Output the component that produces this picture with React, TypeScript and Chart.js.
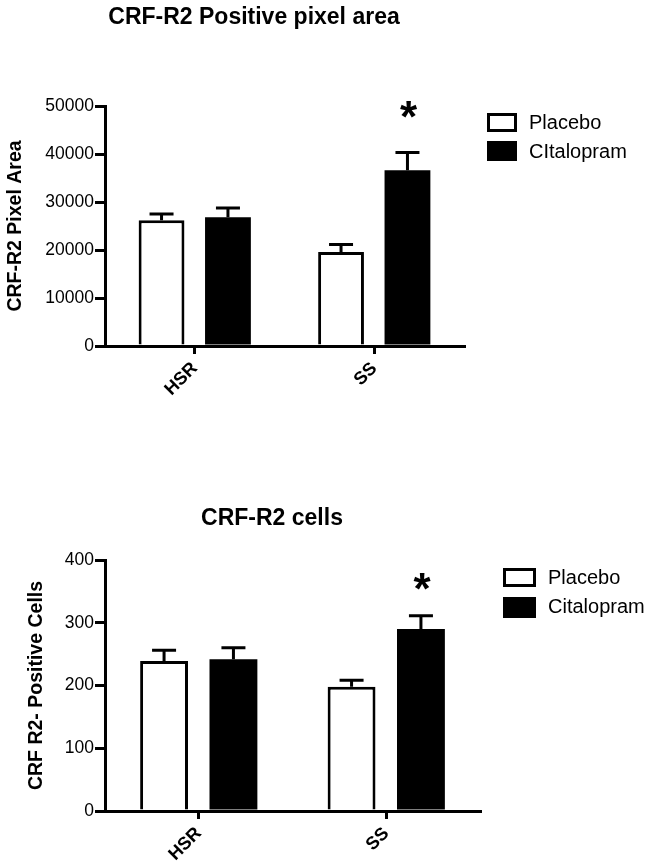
import React, { useEffect, useRef } from 'react';
import { Chart, registerables } from 'chart.js';

Chart.register(...registerables);

const FONT = '"Liberation Sans", Arial, Helvetica, sans-serif';

// ---------- data: top panel (pixel area) ----------
const categories = ['HSR', 'SS'];
const areaSeriesNames = ['Placebo', 'CItalopram'];
const areaPlacebo = [26200, 19600];
const areaPlaceboSem = [1300, 1550];
const areaCitalopram = [26800, 36600];
const areaCitalopramSem = [1950, 3700];
const areaTicks = [0, 10000, 20000, 30000, 40000, 50000];
const areaSignificance = ['', '*'];
const areaStarLevel = 49200;

// ---------- data: bottom panel (cells) ----------
const cellsSeriesNames = ['Placebo', 'Citalopram'];
const cellsPlacebo = [239, 198];
const cellsPlaceboSem = [17, 10.5];
const cellsCitalopram = [242, 290];
const cellsCitalopramSem = [18, 21];
const cellsTicks = [0, 100, 200, 300, 400];
const cellsSignificance = ['', '*'];
const cellsStarLevel = 365;

type Spec = {
  top: number;
  height: number;
  area: { left: number; right: number; top: number; bottom: number };
  title: string;
  titleX: number;
  titleBaseline: number;
  yTitle: string;
  yTitlePad: number;
  names: string[];
  placebo: number[];
  placeboSem: number[];
  citalopram: number[];
  citalopramSem: number[];
  ticks: number[];
  significance: string[];
  starLevel: number;
  legend: { x: number; w: number; boxes: [number, number][]; textX: number; textY: number[] };
};

const decorPlugin = {
  id: 'decor',
  afterDatasetsDraw(chart: any, _args: any, opts: any) {
    const ctx = chart.ctx as CanvasRenderingContext2D;
    const yScale = chart.scales.y;
    ctx.save();
    ctx.strokeStyle = '#000';
    ctx.lineWidth = 3;
    ctx.lineCap = 'butt';
    chart.data.datasets.forEach((ds: any, i: number) => {
      const meta = chart.getDatasetMeta(i);
      const errs: number[] = opts.errors[i];
      meta.data.forEach((el: any, j: number) => {
        const v = ds.data[j];
        const yTop = el.y;
        const yErr = yScale.getPixelForValue(v + errs[j]);
        ctx.beginPath();
        ctx.moveTo(el.x, yTop);
        ctx.lineTo(el.x, yErr);
        ctx.moveTo(el.x - 12, yErr);
        ctx.lineTo(el.x + 12, yErr);
        ctx.stroke();
      });
    });
    ctx.restore();
  },
  afterDraw(chart: any, _args: any, opts: any) {
    const ctx = chart.ctx as CanvasRenderingContext2D;
    const yScale = chart.scales.y;
    ctx.save();
    // title
    ctx.fillStyle = '#000';
    ctx.font = `bold 23px ${FONT}`;
    ctx.textAlign = 'center';
    ctx.textBaseline = 'alphabetic';
    ctx.fillText(opts.title, opts.titleX, opts.titleBaseline);

    // significance stars (on Citalopram bars)
    const meta = chart.getDatasetMeta(1);
    ctx.font = `bold 44px ${FONT}`;
    opts.significance.forEach((s: string, j: number) => {
      if (!s) return;
      const el = meta.data[j];
      const m = ctx.measureText(s);
      const cy = yScale.getPixelForValue(opts.starLevel);
      const baseline = cy + (m.actualBoundingBoxAscent - m.actualBoundingBoxDescent) / 2;
      ctx.fillText(s, el.x + 1, baseline);
    });

    // legend
    const lg = opts.legend;
    ctx.font = `20px ${FONT}`;
    ctx.textAlign = 'left';
    ctx.textBaseline = 'middle';
    opts.names.forEach((name: string, i: number) => {
      const [by, bh] = lg.boxes[i];
      if (i === 0) {
        ctx.fillStyle = '#fff';
        ctx.fillRect(lg.x, by, lg.w, bh);
        ctx.strokeStyle = '#000';
        ctx.lineWidth = 3;
        ctx.strokeRect(lg.x + 1.5, by + 1.5, lg.w - 3, bh - 3);
      } else {
        ctx.fillStyle = '#000';
        ctx.fillRect(lg.x, by, lg.w, bh);
      }
      ctx.fillStyle = '#000';
      ctx.fillText(name, lg.textX, lg.textY[i]);
    });
    ctx.restore();
  },
};

function buildConfig(spec: Spec): any {
  const a = spec.area;
  return {
    type: 'bar',
    data: {
      labels: categories,
      datasets: [
        {
          label: spec.names[0],
          data: spec.placebo,
          backgroundColor: '#ffffff',
          borderColor: '#000000',
          borderWidth: 3,
          categoryPercentage: 0.74,
          barPercentage: 0.69,
        },
        {
          label: spec.names[1],
          data: spec.citalopram,
          backgroundColor: '#000000',
          borderColor: '#000000',
          borderWidth: 0,
          categoryPercentage: 0.74,
          barPercentage: 0.69,
        },
      ],
    },
    options: {
      animation: false,
      responsive: false,
      devicePixelRatio: 1,
      layout: { padding: { left: 0, top: a.top, right: 654 - a.right, bottom: 0 } },
      plugins: {
        legend: { display: false },
        title: { display: false },
        tooltip: { enabled: false },
        decor: {
          errors: [spec.placeboSem, spec.citalopramSem],
          title: spec.title,
          titleX: spec.titleX,
          titleBaseline: spec.titleBaseline,
          significance: spec.significance,
          starLevel: spec.starLevel,
          names: spec.names,
          legend: spec.legend,
        },
      },
      scales: {
        x: {
          type: 'category',
          offset: true,
          grid: {
            display: true,
            drawOnChartArea: false,
            drawTicks: true,
            offset: false,
            tickLength: 8,
            tickWidth: 3,
            tickColor: '#000',
            lineWidth: 3,
            color: '#000',
          },
          border: { display: true, color: '#000', width: 3 },
          ticks: {
            color: '#000',
            font: { family: FONT, size: 18, weight: 'bold' },
            minRotation: 45,
            maxRotation: 45,
            padding: 4,
            labelOffset: 0,
            autoSkip: false,
          },
          afterFit: (s: any) => {
            s.height = spec.height - a.bottom;
          },
        },
        y: {
          min: spec.ticks[0],
          max: spec.ticks[spec.ticks.length - 1],
          afterBuildTicks: (s: any) => {
            s.ticks = spec.ticks.map((v) => ({ value: v }));
          },
          grid: {
            display: true,
            drawOnChartArea: false,
            drawTicks: true,
            tickLength: 10,
            tickWidth: 3,
            tickColor: '#000',
            lineWidth: 3,
            color: '#000',
          },
          border: { display: true, color: '#000', width: 3 },
          ticks: {
            color: '#000',
            font: { family: FONT, size: 17.5 },
            padding: 1,
            callback: (v: any) => String(v),
          },
          title: {
            display: true,
            text: spec.yTitle,
            color: '#000',
            font: { family: FONT, size: 19.5, weight: 'bold' },
            padding: { top: spec.yTitlePad, bottom: 0 },
          },
          afterFit: (s: any) => {
            s.width = a.left;
          },
        },
      },
    },
    plugins: [decorPlugin],
  };
}

const topSpec: Spec = {
  top: 0,
  height: 430,
  area: { left: 105, right: 464, top: 106, bottom: 346 },
  title: 'CRF-R2 Positive pixel area',
  titleX: 254,
  titleBaseline: 24,
  yTitle: 'CRF-R2 Pixel Area',
  yTitlePad: 4,
  names: areaSeriesNames,
  placebo: areaPlacebo,
  placeboSem: areaPlaceboSem,
  citalopram: areaCitalopram,
  citalopramSem: areaCitalopramSem,
  ticks: areaTicks,
  significance: areaSignificance,
  starLevel: areaStarLevel,
  legend: { x: 487, w: 30, boxes: [[113, 19], [141, 20]], textX: 529, textY: [123, 152] },
};

const bottomSpec: Spec = {
  top: 430,
  height: 438,
  area: { left: 105, right: 480, top: 130, bottom: 381 },
  title: 'CRF-R2 cells',
  titleX: 272,
  titleBaseline: 95,
  yTitle: 'CRF R2- Positive Cells',
  yTitlePad: 25,
  names: cellsSeriesNames,
  placebo: cellsPlacebo,
  placeboSem: cellsPlaceboSem,
  citalopram: cellsCitalopram,
  citalopramSem: cellsCitalopramSem,
  ticks: cellsTicks,
  significance: cellsSignificance,
  starLevel: cellsStarLevel,
  legend: { x: 503, w: 33, boxes: [[138, 19], [167, 21]], textX: 548, textY: [148, 177] },
};

function Panel({ spec }: { spec: Spec }) {
  const ref = useRef<HTMLCanvasElement>(null);
  useEffect(() => {
    if (!ref.current) return;
    const chart = new Chart(ref.current, buildConfig(spec));
    return () => chart.destroy();
  }, [spec]);
  return (
    <canvas
      ref={ref}
      width={654}
      height={spec.height}
      style={{ position: 'absolute', left: 0, top: spec.top, width: 654, height: spec.height, display: 'block' }}
    />
  );
}

export default function App() {
  return (
    <div style={{ position: 'absolute', left: 0, top: 0, width: 654, height: 868, background: '#fff', overflow: 'hidden' }}>
      <Panel spec={topSpec} />
      <Panel spec={bottomSpec} />
    </div>
  );
}
